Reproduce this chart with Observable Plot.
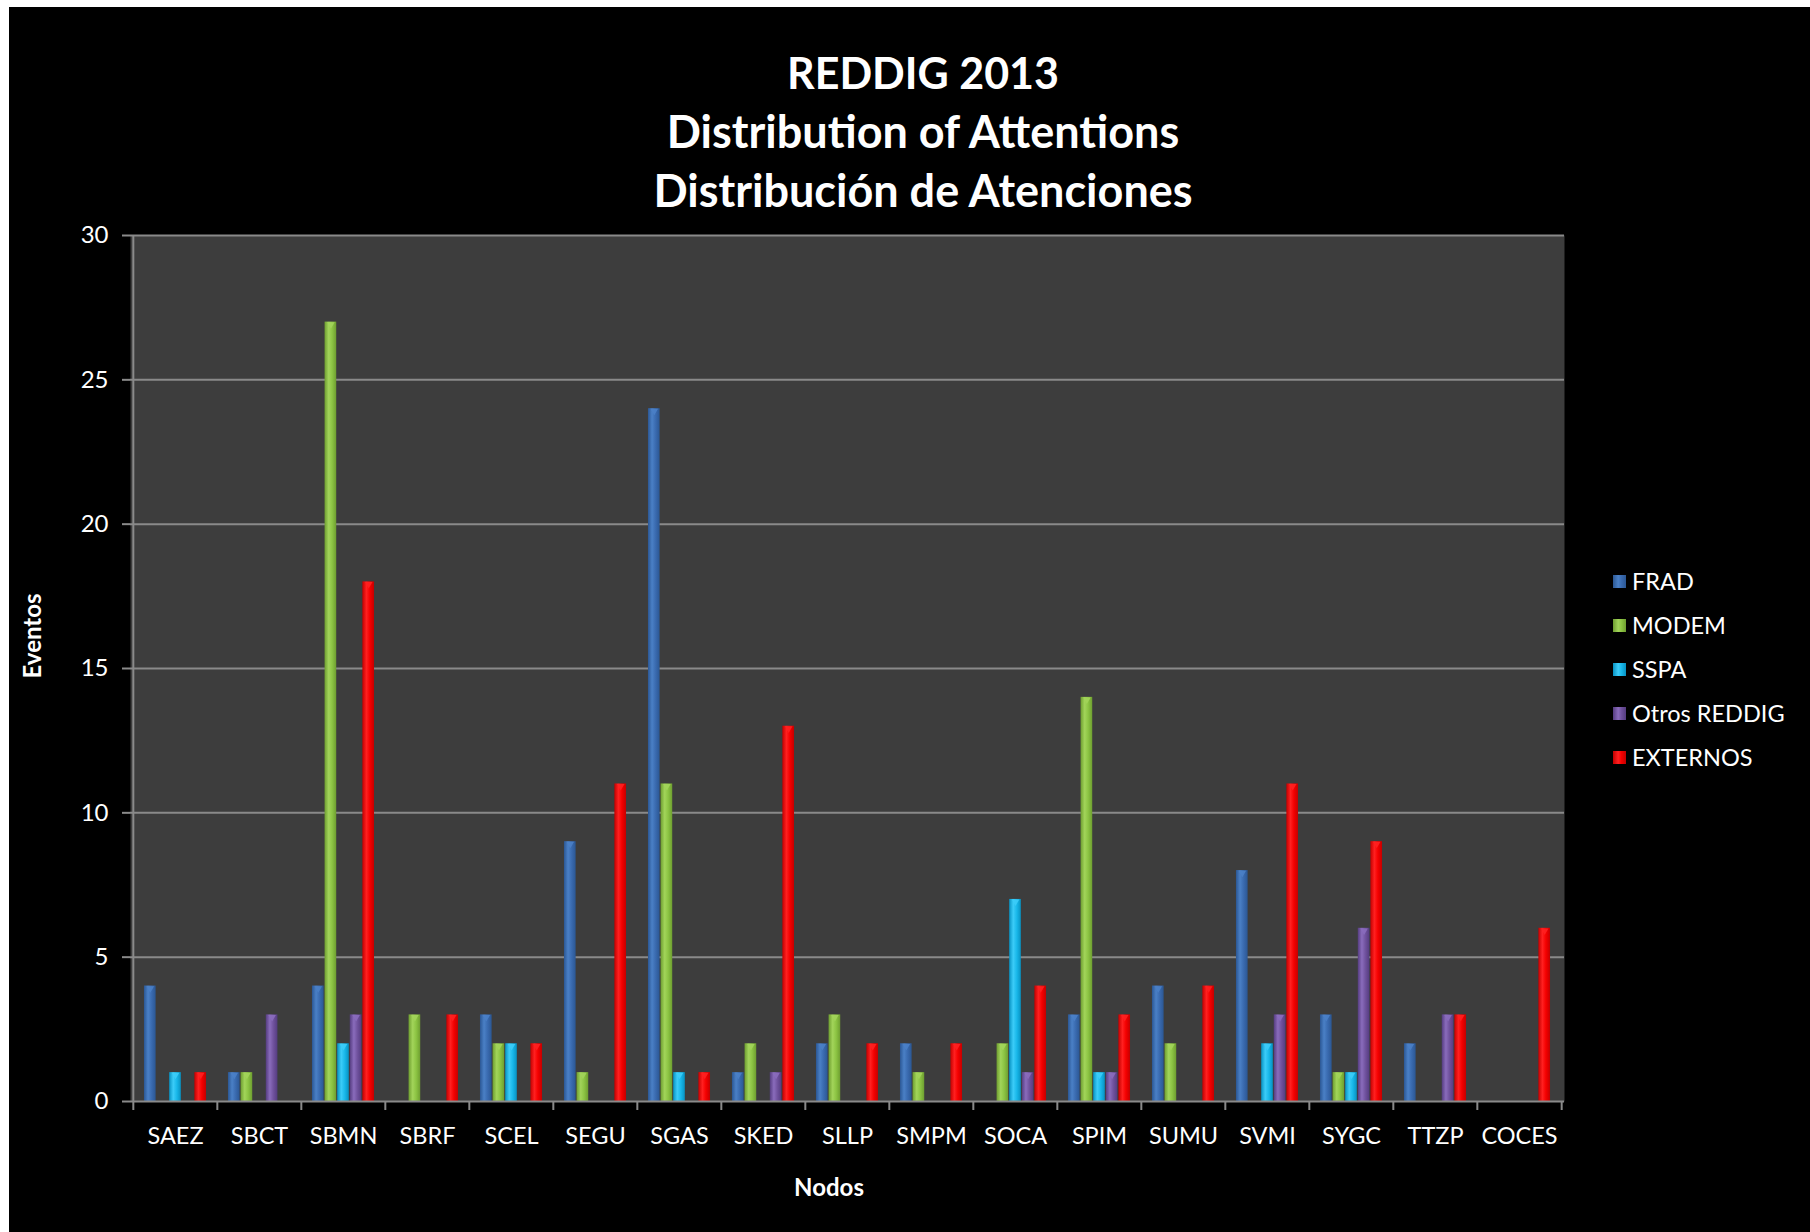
<!DOCTYPE html>
<html>
<head>
<meta charset="utf-8">
<script src="https://cdn.jsdelivr.net/npm/d3@7"></script>
<script src="https://cdn.jsdelivr.net/npm/@observablehq/plot@0.6"></script>
<style>
  html, body { margin: 0; padding: 0; background: #ffffff; }
  #wrap { position: relative; width: 1810px; height: 1232px; overflow: hidden; font-family: Lato, "Open Sans", sans-serif; }
  #bg { position: absolute; left: 9px; top: 7px; right: 0; bottom: 0; background: #000; }
  #chart { position: absolute; left: 0; top: 0; }
  #title { position: absolute; left: 523px; width: 800px; top: 43px; text-align: center; color: #fff; font-weight: 700; font-size: 45px; line-height: 59px; }
  #title .l1 { font-size: 43px; }
  #ylab { position: absolute; left: 31px; top: 636px; transform: translate(-50%, -50%) rotate(-90deg); color: #fff; font-weight: 700; font-size: 24px; white-space: nowrap; }
  #xlab { position: absolute; left: 829px; top: 1186px; transform: translate(-50%, -50%); color: #fff; font-weight: 700; font-size: 24px; white-space: nowrap; }
  #legend { position: absolute; left: 1613px; top: 559px; color: #fff; font-size: 23.5px; }
  #legend .row { height: 44px; display: flex; align-items: center; }
  #legend .sw { width: 13px; height: 13px; margin-right: 6px; }
</style>
</head>
<body>
<div id="wrap">
  <div id="bg"></div>
  <div id="chart"></div>
  <div id="title"><span class="l1">REDDIG 2013</span><br>Distribution of Attentions<br>Distribución de Atenciones</div>
  <div id="ylab">Eventos</div>
  <div id="xlab">Nodos</div>
  <div id="legend"></div>
</div>
<script>
// ---- data ----
const nodes = ["SAEZ","SBCT","SBMN","SBRF","SCEL","SEGU","SGAS","SKED","SLLP","SMPM","SOCA","SPIM","SUMU","SVMI","SYGC","TTZP","COCES"];
const series = ["FRAD","MODEM","SSPA","Otros REDDIG","EXTERNOS"];
const frad     = [4,1,4,0,3,9,24,1,2,2,0,3,4,8,3,2,0];
const modem    = [0,1,27,3,2,1,11,2,3,1,2,14,2,0,1,0,0];
const sspa     = [1,0,2,0,2,0,1,0,0,0,7,1,0,2,1,0,0];
const otros    = [0,3,3,0,0,0,0,1,0,0,1,1,0,3,6,3,0];
const externos = [1,0,18,3,2,11,1,13,2,2,4,3,4,11,9,3,6];
const yTicks = [0,5,10,15,20,25,30];

// ---- styles ----
const colors = {
  "FRAD":         ["#2b5794", "#4a80c6", "#3a6bb0"],
  "MODEM":        ["#6e9e30", "#a2d45a", "#8cc443"],
  "SSPA":         ["#0792c2", "#3cccf8", "#19b8ea"],
  "Otros REDDIG": ["#553c80", "#8a6cbc", "#70529e"],
  "EXTERNOS":     ["#c40000", "#ff2020", "#f40000"]
};
const valuesBySeries = [frad, modem, sspa, otros, externos];

const data = [];
series.forEach((s, si) => nodes.forEach((n, ni) => data.push({node: n, series: s, si, value: valuesBySeries[si][ni]})));

const W = 1810, H = 1232;
const mL = 130, mR = W - 1564, mT = 235, mB = H - 1101;
const bw = (W - mL - mR) / nodes.length;
const step = 12.6, barW = 12;
const gridColor = "#8a8a8a";

const defs = () => {
  const d = d3.create("svg:defs");
  series.forEach((s, i) => {
    const [dark, light, mid] = colors[s];
    const g = d.append("linearGradient").attr("id", "g" + i).attr("x1", "0").attr("x2", "1").attr("y1", "0").attr("y2", "0");
    g.append("stop").attr("offset", "0%").attr("stop-color", dark);
    g.append("stop").attr("offset", "35%").attr("stop-color", light);
    g.append("stop").attr("offset", "65%").attr("stop-color", mid);
    g.append("stop").attr("offset", "100%").attr("stop-color", dark);
  });
  return d.node();
};

const barMarks = series.map((s, i) => {
  const center = bw / 2 + (i - 2) * step;
  return Plot.barY(data.filter(d => d.series === s && d.value > 0), {
    x: "node", y: "value",
    fill: `url(#g${i})`,
    insetLeft: center - barW / 2,
    insetRight: bw - center - barW / 2
  });
});

const capMarks = series.map((s, i) => Plot.dot(data.filter(d => d.series === s && d.value > 0), {
  x: "node", y: "value", symbol: "triangle", rotate: 180, r: 2.8,
  dx: (i - 2) * step, dy: 2.3, fill: colors[s][1], fillOpacity: 0.9, stroke: "none"
}));

const chart = Plot.plot({
  width: W, height: H,
  marginLeft: mL, marginRight: mR, marginTop: mT, marginBottom: mB,
  style: {background: "transparent", fontFamily: "Lato, 'Open Sans', sans-serif", overflow: "visible"},
  x: {domain: nodes, padding: 0, label: null},
  y: {domain: [0, 30], label: null},
  marks: [
    defs,
    Plot.frame({fill: "#3d3d3d", stroke: "none"}),
    Plot.gridY(yTicks.filter(t => t > 0), {stroke: gridColor, strokeOpacity: 1, strokeWidth: 2}),
    Plot.ruleX([nodes[0]], {dx: -bw / 2, stroke: gridColor, strokeWidth: 2}),
    Plot.ruleX(nodes, {x: d => d, dx: -bw / 2, y1: d => 0, y2: d => 0, insetBottom: -9, stroke: gridColor, strokeWidth: 2}),
    Plot.ruleX([nodes[nodes.length - 1]], {dx: bw / 2, y1: d => 0, y2: d => 0, insetBottom: -9, stroke: gridColor, strokeWidth: 2}),
    Plot.axisY({ticks: yTicks, tickSize: 8, tickPadding: 14, fontSize: 24, fill: "#ffffff", stroke: gridColor, strokeWidth: 2, label: null}),
    Plot.axisX({tickSize: 0, tickPadding: 26, fontSize: 23.5, fill: "#ffffff", label: null}),
    ...barMarks,
    ...capMarks,
    Plot.ruleY([0], {stroke: gridColor, strokeWidth: 2})
  ]
});
document.getElementById("chart").appendChild(chart);

// legend
const leg = document.getElementById("legend");
series.forEach(s => {
  const [dark, light, mid] = colors[s];
  const row = document.createElement("div");
  row.className = "row";
  const sw = document.createElement("div");
  sw.className = "sw";
  sw.style.background = `linear-gradient(to right, ${dark}, ${light} 40%, ${mid} 65%, ${dark})`;
  const lb = document.createElement("span");
  lb.textContent = s;
  row.appendChild(sw); row.appendChild(lb);
  leg.appendChild(row);
});
</script>
</body>
</html>
